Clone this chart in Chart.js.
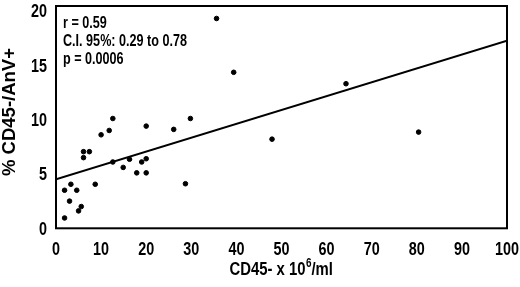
<!DOCTYPE html>
<html>
<head>
<meta charset="utf-8">
<script src="https://cdn.jsdelivr.net/npm/chart.js@4"></script>
<style>
  html, body { margin: 0; padding: 0; background: #fff; }
  #wrap { width: 520px; height: 287px; }
</style>
</head>
<body>
<div id="wrap"><canvas id="c"></canvas></div>
<script>
// CD45- count vs % CD45-/AnV+
const cd45 = [12.6, 11.8, 10.0, 20.0, 6.1, 7.4, 6.1, 12.6, 16.3, 14.9, 19.0, 20.0, 17.9, 20.0, 8.7,
  1.9, 3.3, 4.6, 3.0, 5.6, 5.0, 1.9, 26.1, 29.8, 28.7, 35.6, 39.4, 64.3, 47.9, 80.4];
const anv = [10.1, 9.0, 8.6, 9.4, 7.05, 7.05, 6.5, 6.1, 6.35, 5.6, 6.1, 6.4, 5.1, 5.1, 4.05,
  3.5, 4.05, 3.5, 2.5, 2.0, 1.6, 0.95, 9.1, 10.1, 4.1, 19.3, 14.35, 13.3, 8.2, 8.85];
const fitX = [0, 100];
const fitY = [4.5, 17.25];
const xTicks = [0, 10, 20, 30, 40, 50, 60, 70, 80, 90, 100];
const yTicks = [0, 5, 10, 15, 20];
const statsText = ["r = 0.59", "C.I. 95%: 0.29 to 0.78", "p = 0.0006"];
const yTitle = "% CD45-/AnV+";

const FONT = "'Liberation Sans', Arial, sans-serif";

// draw text squeezed horizontally, the reference uses a condensed face
function narrowText(ctx, text, x, y, align, sx) {
  ctx.save();
  ctx.translate(x, y);
  ctx.scale(sx, 1);
  ctx.textAlign = align;
  ctx.fillText(text, 0, 0);
  ctx.restore();
}

const frame = {
  id: "frame",
  afterDatasetsDraw(chart) {
    const { ctx, chartArea: a } = chart;
    const xs = chart.scales.x, ys = chart.scales.y;
    ctx.save();
    ctx.strokeStyle = "#000";
    ctx.lineWidth = 2;
    ctx.strokeRect(a.left, a.top, a.right - a.left, a.bottom - a.top);
    ctx.fillStyle = "#000";
    ctx.textBaseline = "middle";

    // tick labels
    ctx.font = "bold 18px " + FONT;
    const sx = 24 / ctx.measureText("100").width;
    xs.ticks.forEach((t) => narrowText(ctx, String(t.value), xs.getPixelForValue(t.value), 250, "center", sx));
    ys.ticks.forEach((t) => narrowText(ctx, String(t.value), 47, ys.getPixelForValue(t.value) + 1.5, "right", sx));

    // stats
    ctx.font = "bold 17px " + FONT;
    const ss = 124 / ctx.measureText(statsText[1]).width;
    statsText.forEach((t, i) => narrowText(ctx, t, a.left + 7, a.top + 17 + i * 18.3, "left", ss));

    // x axis title with superscript
    const y = 270;
    ctx.font = "bold 18px " + FONT;
    const p1 = "CD45- x 10", p2 = "6", p3 = "/ml";
    const w1 = ctx.measureText(p1).width, w3 = ctx.measureText(p3).width;
    ctx.font = "bold 12px " + FONT;
    const w2 = ctx.measureText(p2).width;
    const ts = 103 / (w1 + w2 + w3);
    ctx.save();
    ctx.translate(281 - 51.5, y);
    ctx.scale(ts, 1);
    ctx.textAlign = "left";
    ctx.font = "bold 18px " + FONT;
    ctx.fillText(p1, 0, 0);
    ctx.font = "bold 12px " + FONT;
    ctx.fillText(p2, w1 + 0.5, -6);
    ctx.font = "bold 18px " + FONT;
    ctx.fillText(p3, w1 + w2 + 0.5, 0);
    ctx.restore();

    // y axis title
    ctx.font = "bold 18px " + FONT;
    const ys2 = 128 / ctx.measureText(yTitle).width;
    ctx.save();
    ctx.translate(10, 112);
    ctx.rotate(-Math.PI / 2);
    narrowText(ctx, yTitle, 0, 0, "center", ys2);
    ctx.restore();
    ctx.restore();
  }
};

new Chart(document.getElementById("c"), {
  type: "scatter",
  data: {
    datasets: [
      {
        data: cd45.map((v, i) => ({ x: v, y: anv[i] })),
        backgroundColor: "#000",
        borderColor: "#000",
        pointRadius: 2.3,
        pointHoverRadius: 2.3,
      },
      {
        type: "line",
        data: fitX.map((v, i) => ({ x: v, y: fitY[i] })),
        borderColor: "#000",
        borderWidth: 2,
        pointRadius: 0,
        fill: false,
      },
    ],
  },
  options: {
    responsive: true,
    maintainAspectRatio: false,
    animation: false,
    layout: { padding: { left: 0, right: 13, top: 6, bottom: 0 } },
    plugins: {
      legend: { display: false },
      tooltip: { enabled: false },
    },
    scales: {
      x: {
        type: "linear",
        min: 0,
        max: 100,
        afterBuildTicks: (s) => { s.ticks = xTicks.map((v) => ({ value: v })); },
        afterFit: (s) => { s.height = 58.7; s.paddingLeft = 0; s.paddingRight = 0; },
        grid: { display: false, drawTicks: false },
        border: { display: false },
        ticks: { display: false },
      },
      y: {
        min: 0,
        max: 20.45,
        afterBuildTicks: (s) => { s.ticks = yTicks.map((v) => ({ value: v })); },
        afterFit: (s) => { s.width = 56; s.paddingTop = 0; s.paddingBottom = 0; },
        grid: { display: false, drawTicks: false },
        border: { display: false },
        ticks: { display: false },
      },
    },
  },
  plugins: [frame],
});
</script>
</body>
</html>
